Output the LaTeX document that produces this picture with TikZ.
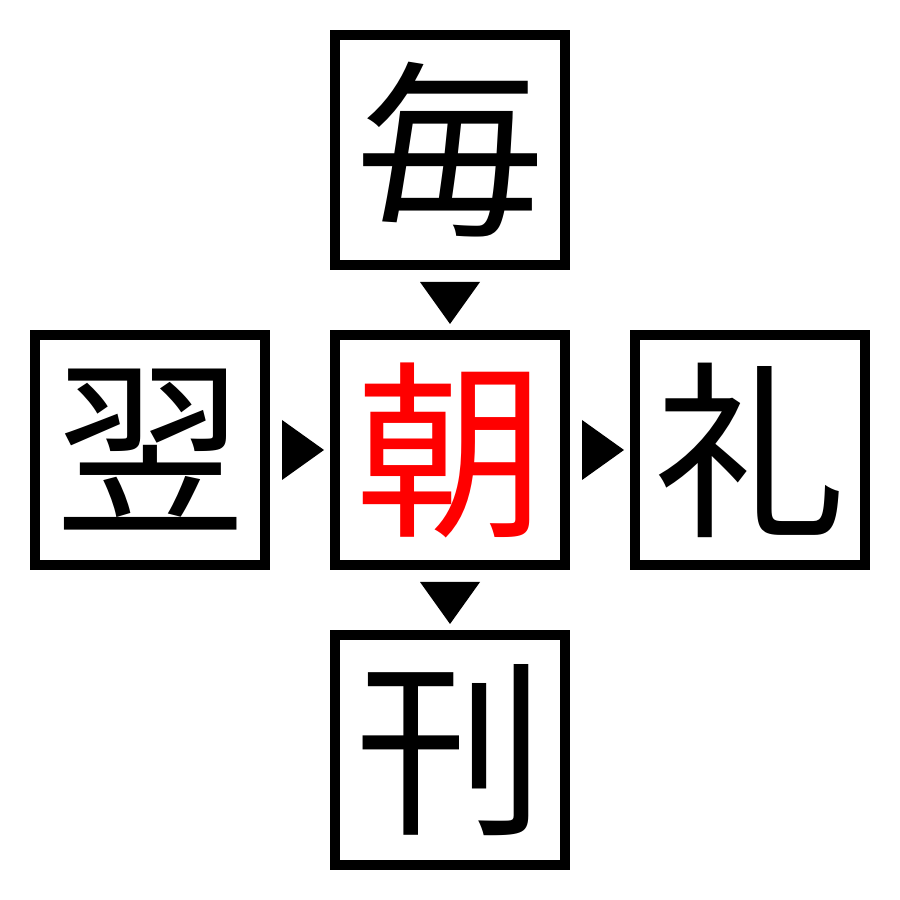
\documentclass[tikz,border=0pt]{standalone}
\usepackage{fontspec}
\newfontfamily\cjk{Noto Sans CJK JP}
\usetikzlibrary{positioning}
\tikzstyle{kanji} = [rectangle, draw, line width=1mm, minimum size=2.3cm,
    inner sep=0pt, font=\cjk\fontsize{54}{54}\selectfont]
\tikzstyle{tri} = [fill=black, draw=none]
\begin{document}
\begin{tikzpicture}
 \useasboundingbox (0,0) rectangle (9,9);
 \node at (4.5,4.5) [kanji, text=red, name=center] {朝};
 \node [kanji, above=0.6cm of center] (top) {毎};
 \node [kanji, left=0.6cm of center] (left) {翌};
 \node [kanji, right=0.6cm of center] (right) {礼};
 \node [kanji, below=0.6cm of center] (bottom) {刊};
 % triangles between the boxes
 \path [tri] ([yshift=-1.2mm]top.south) ++(-0.3,0) -- ++(0.6,0) -- ++(-0.3,-0.42) -- cycle;
 \path [tri] ([yshift=-1.2mm]center.south) ++(-0.3,0) -- ++(0.6,0) -- ++(-0.3,-0.42) -- cycle;
 \path [tri] ([xshift=1.2mm]left.east) ++(0,0.3) -- ++(0,-0.6) -- ++(0.42,0.3) -- cycle;
 \path [tri] ([xshift=1.2mm]center.east) ++(0,0.3) -- ++(0,-0.6) -- ++(0.42,0.3) -- cycle;
\end{tikzpicture}
\end{document}
